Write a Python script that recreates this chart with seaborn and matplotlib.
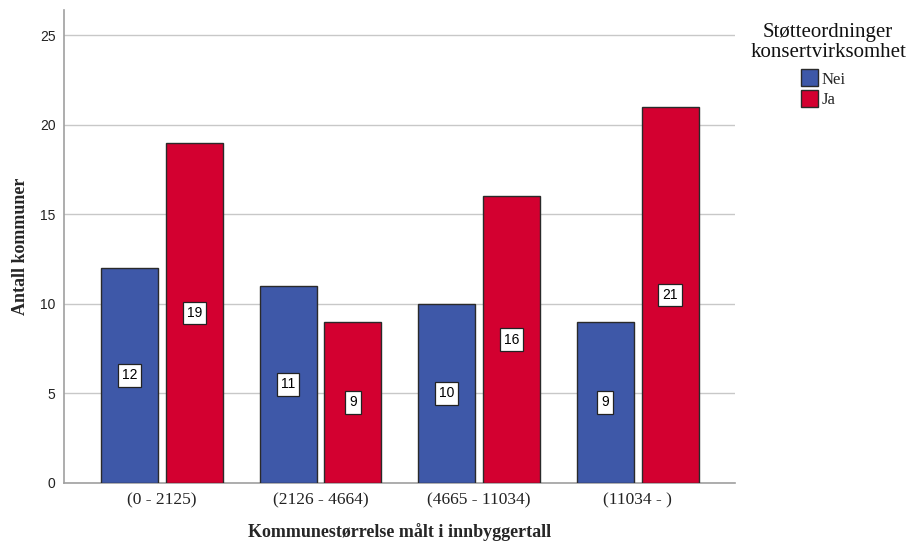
import matplotlib
matplotlib.use("Agg")
import matplotlib.pyplot as plt
import seaborn as sns
import pandas as pd
from matplotlib.patches import Patch

# Antall kommuner per størrelsesgruppe, fordelt på støtteordning
categories = ["(0 - 2125)", "(2126 - 4664)", "(4665 - 11034)", "(11034 - )"]
groups = ["Nei", "Ja"]
nei_values = [12, 11, 10, 9]
ja_values = [19, 9, 16, 21]
y_ticks = [0, 5, 10, 15, 20, 25]

df = pd.DataFrame({
    "Kommunestørrelse": categories * 2,
    "Støtte": [groups[0]] * 4 + [groups[1]] * 4,
    "Antall": nei_values + ja_values,
})

sns.set_style("white")
serif = ["Liberation Serif", "DejaVu Serif"]
sans = ["Liberation Sans", "DejaVu Sans"]

fig = plt.figure(figsize=(9.08, 5.42), dpi=100)
ax = fig.add_axes([0.0705, 0.1089, 0.739, 0.8726])

palette = {"Nei": "#3E58A8", "Ja": "#D30030"}
sns.barplot(data=df, x="Kommunestørrelse", y="Antall", hue="Støtte",
            hue_order=groups, order=categories, palette=palette,
            width=0.82, gap=0.123, edgecolor="#2a2a2a", linewidth=1.0,
            saturation=1, errorbar=None, ax=ax, zorder=3, legend=False)

# Verdietiketter midt i hver søyle
for container in ax.containers:
    for bar in container:
        h = bar.get_height()
        ax.text(bar.get_x() + bar.get_width() / 2, h / 2, f"{int(h)}",
                ha="center", va="center", fontsize=10, family=sans,
                color="black", zorder=5,
                bbox=dict(boxstyle="square,pad=0.3", facecolor="white",
                          edgecolor="#222222", linewidth=0.9))

ax.set_xlim(-0.618, 3.615)
ax.set_ylim(0, 26.4)
ax.set_yticks(y_ticks)
ax.yaxis.grid(True, color="#c8c8c8", linewidth=1.0, zorder=0)
ax.set_axisbelow(True)
for s in ["top", "right"]:
    ax.spines[s].set_visible(False)
for s in ["left", "bottom"]:
    ax.spines[s].set_color("#a0a0a0")
    ax.spines[s].set_linewidth(1.2)
ax.tick_params(axis="both", length=0)
ax.tick_params(axis="y", pad=6)
ax.tick_params(axis="x", pad=7)

for lbl in ax.get_yticklabels():
    lbl.set_family(sans)
    lbl.set_fontsize(10)
    lbl.set_color("#222222")
for lbl in ax.get_xticklabels():
    lbl.set_family(serif)
    lbl.set_fontsize(12.5)
    lbl.set_color("#222222")

ax.set_xlabel("Kommunestørrelse målt i innbyggertall", family=serif,
              fontsize=13, fontweight="bold", labelpad=10)
ax.set_ylabel("Antall kommuner", family=serif, fontsize=13,
              fontweight="bold", labelpad=8)

# Forklaring til høyre for plottet
fig.text(0.912, 0.958, "Støtteordninger\nkonsertvirksomhet", ha="center",
         va="top", family=serif, fontsize=15, linespacing=1.1,
         color="#111111")
handles = [Patch(facecolor=palette[g], edgecolor="#2a2a2a", linewidth=1.0)
           for g in groups]
leg = fig.legend(handles, groups, loc="upper left",
                 bbox_to_anchor=(0.882, 0.872),
                 frameon=False, prop={"family": serif, "size": 12},
                 handlelength=1.0, handleheight=1.2, handletextpad=0.25,
                 labelspacing=0.12, borderaxespad=0, borderpad=0)

fig.savefig("out.png", dpi=100)
